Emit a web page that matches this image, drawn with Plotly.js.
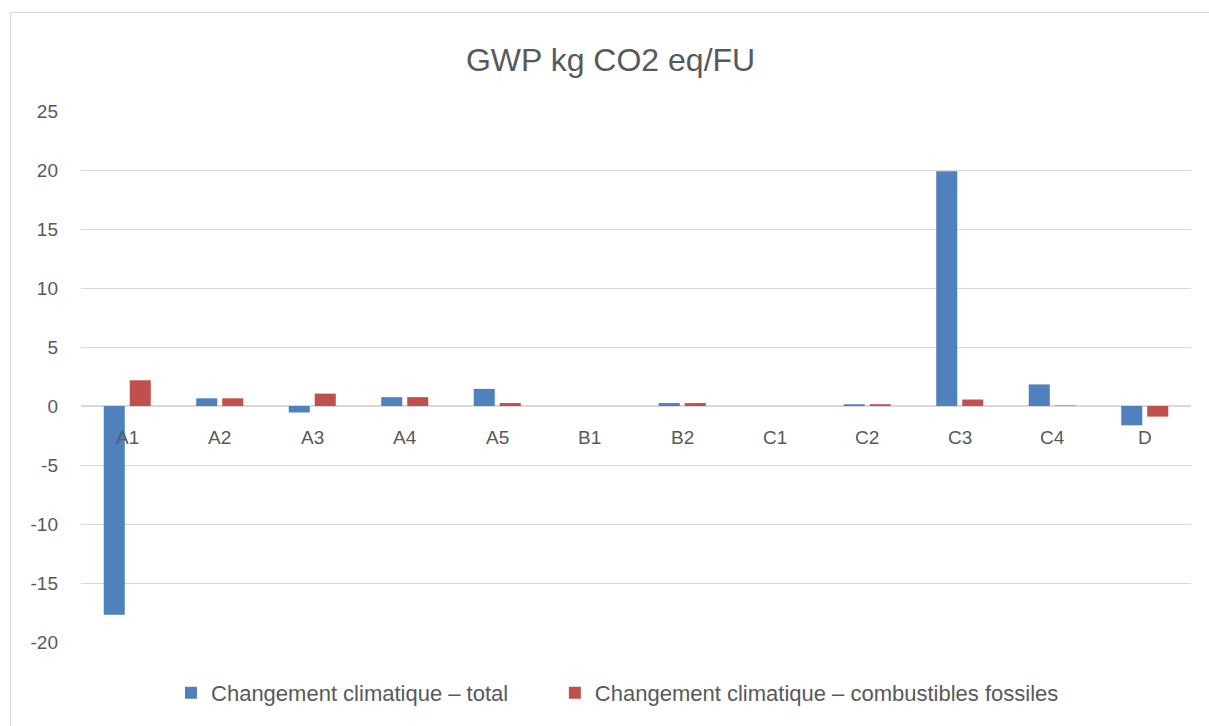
<!DOCTYPE html>
<html>
<head>
<meta charset="utf-8">
<script src="https://cdn.plot.ly/plotly-3.0.1.min.js"></script>
<style>
  html, body { margin: 0; padding: 0; background: #fff; }
  #frame { position: absolute; left: 10px; top: 12px; width: 1200px; height: 716px; border: 1px solid #d9d9d9; box-sizing: border-box; }
  #chart { position: absolute; left: 0; top: 0; width: 1209px; height: 726px; }
</style>
</head>
<body>
<div id="frame"></div>
<div id="chart"></div>
<script>
const categories = ["A1", "A2", "A3", "A4", "A5", "B1", "B2", "C1", "C2", "C3", "C4", "D"];
const totalValues = [-17.7, 0.65, -0.55, 0.75, 1.45, 0, 0.25, 0, 0.15, 19.9, 1.83, -1.64];
const fossilValues = [2.18, 0.65, 1.05, 0.75, 0.25, 0, 0.25, 0, 0.15, 0.55, 0.04, -0.9];
const seriesNames = ["Changement climatique – total", "Changement climatique – combustibles fossiles"];
const tickValues = [-20, -15, -10, -5, 0, 5, 10, 15, 20, 25];
const chartTitle = "GWP kg CO2 eq/FU";

const FONT = "'Liberation Sans', Arial, sans-serif";
const GREY = "#595959";

const traces = [
  { type: "bar", x: categories, y: totalValues, name: seriesNames[0],
    marker: { color: "#4f81bd" }, hoverinfo: "x+y", legend: "legend" },
  { type: "bar", x: categories, y: fossilValues, name: seriesNames[1],
    marker: { color: "#c0504d" }, hoverinfo: "x+y", legend: "legend2" }
];

const annotations = categories.map(c => ({
  x: c, y: 0, xref: "x", yref: "y", text: c, showarrow: false,
  yanchor: "middle", xanchor: "center", yshift: -31,
  font: { family: FONT, size: 19, color: GREY }
}));

const legendBase = {
  orientation: "h", y: -0.096, yanchor: "middle", xanchor: "left",
  font: { family: FONT, size: 22, color: GREY }, itemwidth: 30,
  bgcolor: "rgba(0,0,0,0)"
};

const layout = {
  width: 1209, height: 726,
  margin: { l: 81, r: 18, t: 111, b: 84 },
  paper_bgcolor: "rgba(0,0,0,0)", plot_bgcolor: "rgba(0,0,0,0)",
  title: { text: chartTitle, x: 0.505, xanchor: "center", y: 0.917, yanchor: "middle",
           font: { family: FONT, size: 32, color: GREY } },
  barmode: "group", bargap: 0.438, bargroupgap: 0.19,
  xaxis: { type: "category", categoryarray: categories, showticklabels: false,
           showgrid: false, zeroline: false, showline: false, ticks: "" },
  yaxis: { range: [-20, 25], tickvals: tickValues, ticktext: tickValues.map(String),
           showgrid: true, gridcolor: "#d9d9d9", gridwidth: 1,
           zeroline: true, zerolinecolor: "#d9d9d9", zerolinewidth: 2,
           showline: false, ticks: "", ticklabelstandoff: 22,
           tickfont: { family: FONT, size: 19, color: GREY } },
  legend: Object.assign({}, legendBase, { x: 0.0811 }),
  legend2: Object.assign({}, legendBase, { x: 0.4269 }),
  annotations: annotations,
  showlegend: true
};

Plotly.newPlot("chart", traces, layout, { displayModeBar: false, staticPlot: true });
</script>
</body>
</html>
